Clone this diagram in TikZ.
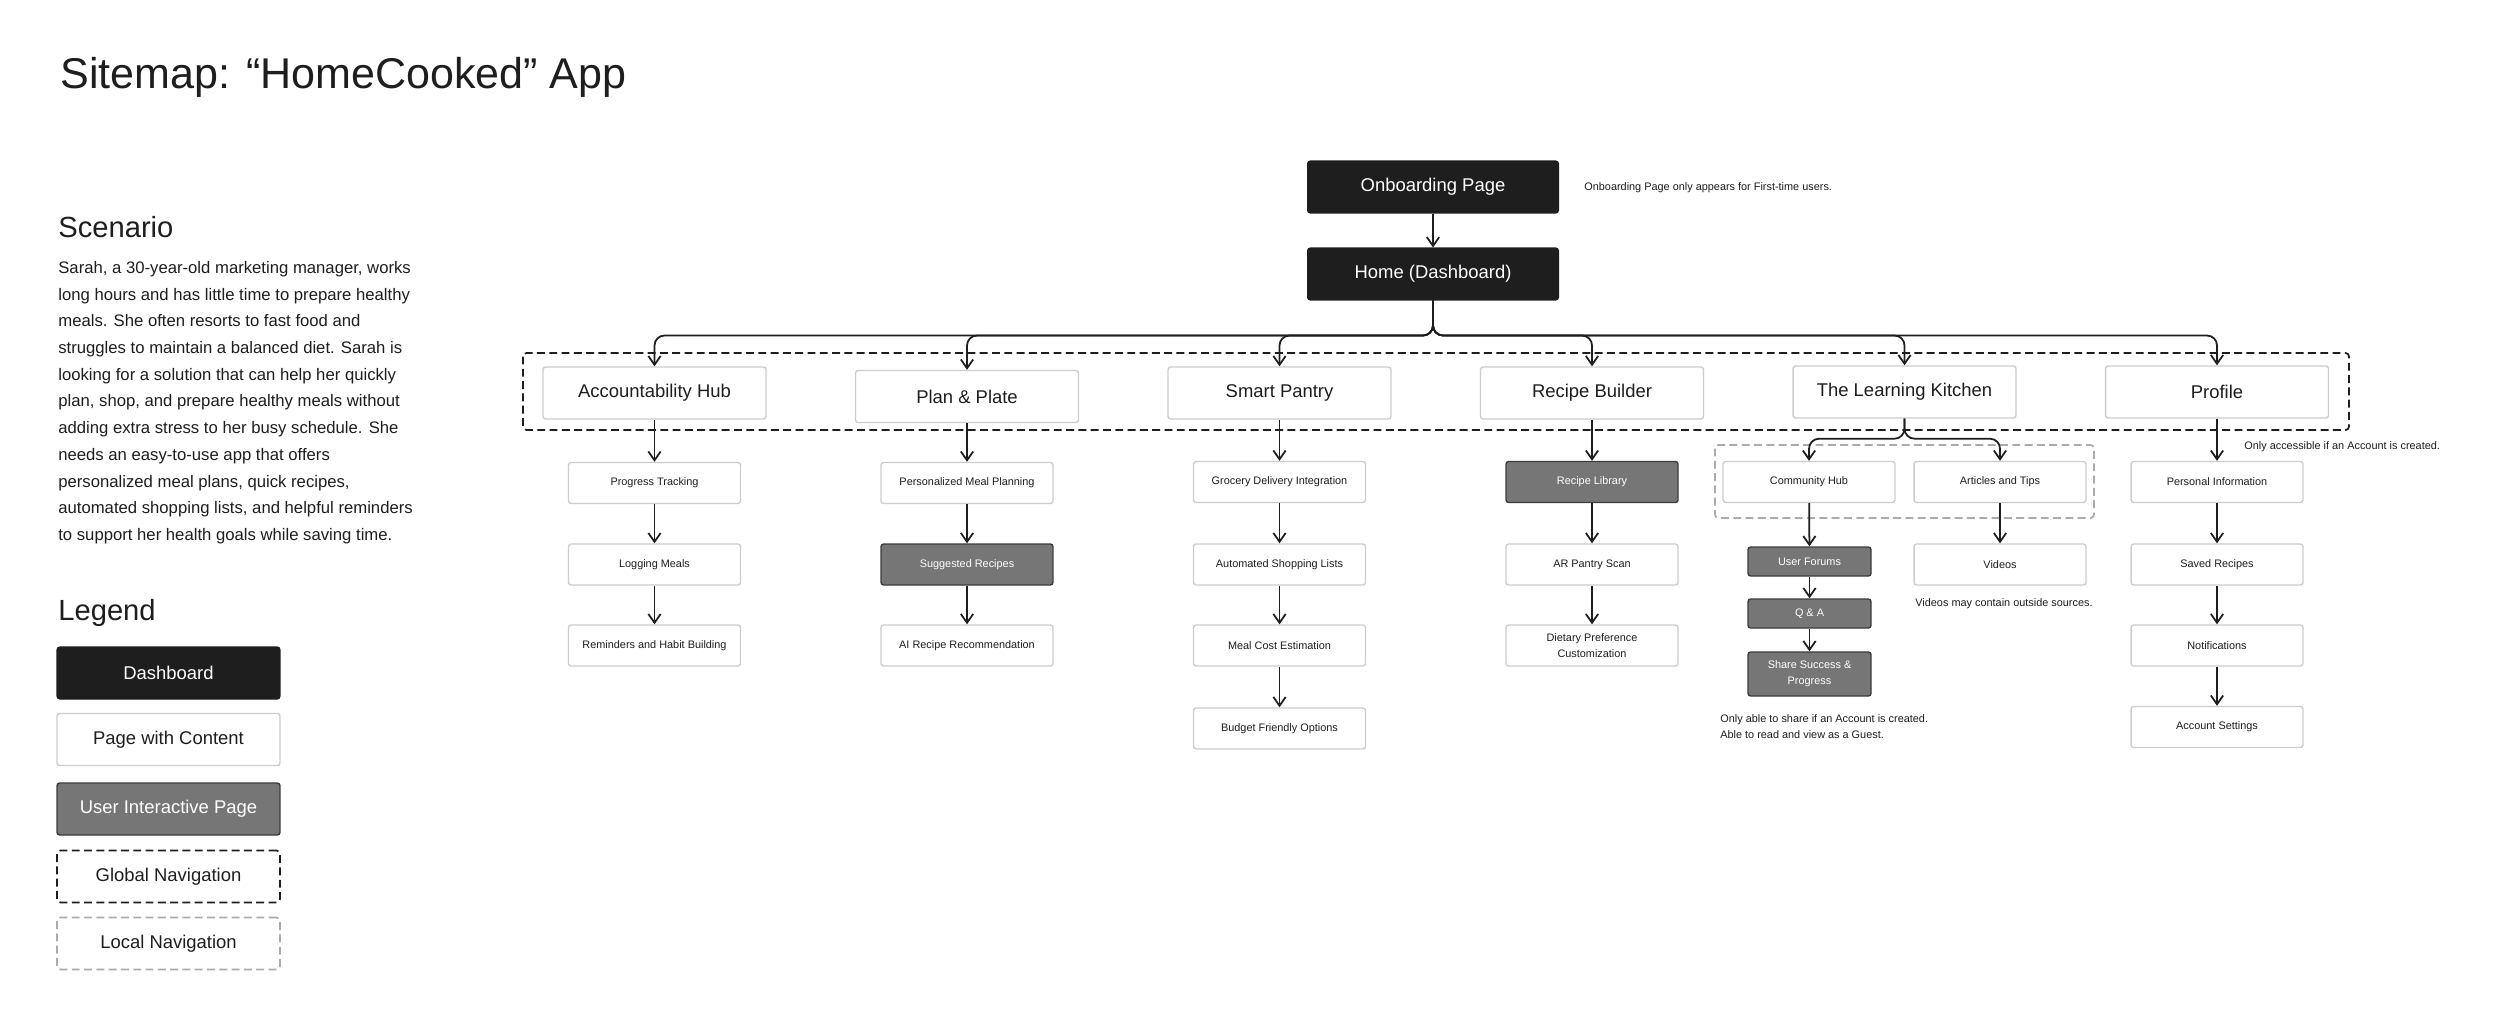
\documentclass[tikz,border=0pt]{standalone}
\usepackage{fontspec}
\setmainfont{Liberation Sans}
\usetikzlibrary{positioning, arrows.meta}

\definecolor{ink}{HTML}{1E1E1E}
\definecolor{interactfill}{HTML}{767676}
\definecolor{interactline}{HTML}{3C3C3C}
\definecolor{pageline}{HTML}{CDCDCD}
\definecolor{localline}{HTML}{ABABAB}

\begin{document}
\begin{tikzpicture}[
    x=0.02cm, y=-0.02cm,
    dashboard/.style={draw=ink, fill=ink, text=white, rounded corners=1.5pt, minimum width=5.02cm, minimum height=1.04cm, inner sep=0pt, line width=0.6pt, font=\fontsize{10.5}{12.6}\selectfont},
    section/.style={draw=pageline, fill=white, text=ink, rounded corners=1.5pt, minimum width=4.46cm, minimum height=1.04cm, inner sep=0pt, line width=0.8pt, font=\fontsize{10.5}{12.6}\selectfont},
    page/.style={draw=pageline, fill=white, text=ink, rounded corners=1.5pt, minimum width=3.44cm, minimum height=0.82cm, inner sep=0pt, align=center, line width=0.8pt, font=\fontsize{6.2}{9.2}\selectfont},
    interactive/.style={page, draw=interactline, fill=interactfill, text=white},
    smallbox/.style={minimum width=2.46cm, minimum height=0.58cm},
    globalnav/.style={draw=ink, line width=1pt, dash pattern=on 4.5pt off 2.5pt, rounded corners=2pt},
    localnav/.style={draw=localline, line width=1pt, dash pattern=on 4.5pt off 2.5pt, rounded corners=2pt},
    link/.style={draw=ink, line width=1pt, -{Straight Barb[length=5pt, width=7pt]}},
    branch/.style={link, rounded corners=0.2cm},
    note/.style={anchor=west, text=ink, inner sep=0pt, align=left, font=\fontsize{6.2}{9.2}\selectfont},
    heading/.style={anchor=base west, text=ink, inner sep=0pt, font=\fontsize{16.6}{20}\selectfont}
]

    \path[use as bounding box, fill=white] (0,0) rectangle (2500,1027);

    % ================= SCENARIO & LEGEND =================
    \node[heading, font=\fontsize{24.5}{29}\selectfont] (title) at (60,89) {Sitemap: “HomeCooked” App};

    \node[heading] (scenario_title) at (58,237) {Scenario};
    \node[anchor=north west, inner sep=0pt, align=left, text=ink, font=\fontsize{9.5}{15.2}\selectfont] (scenario_text) at (58,261) {Sarah, a 30-year-old marketing manager, works\\
        long hours and has little time to prepare healthy\\
        meals. She often resorts to fast food and\\
        struggles to maintain a balanced diet. Sarah is\\
        looking for a solution that can help her quickly\\
        plan, shop, and prepare healthy meals without\\
        adding extra stress to her busy schedule. She\\
        needs an easy-to-use app that offers\\
        personalized meal plans, quick recipes,\\
        automated shopping lists, and helpful reminders\\
        to support her health goals while saving time.};

    \node[heading] (legend_title) at (58,620) {Legend};
    \node[dashboard, minimum width=4.46cm] (lg_dash) at (168.5,673) {Dashboard};
    \node[section] (lg_page) at (168.5,739.5) {Page with Content};
    \node[section, draw=interactline, fill=interactfill, text=white] (lg_user) at (168.5,809) {User Interactive Page};
    \node[section, globalnav] (lg_global) at (168.5,876.5) {Global Navigation};
    \node[section, localnav] (lg_local) at (168.5,943.5) {Local Navigation};

    % ================= TOP LEVEL =================
    \node[dashboard] (onboard) at (1433,187) {Onboarding Page};
    \node[dashboard] (home) at (1433,274) {Home (Dashboard)};
    \node[note] (onboard_note) at (1584,188) {Onboarding Page only appears for First-time users.};
    \draw[link] (onboard) -- (home);

    % ================= GLOBAL NAVIGATION =================
    \draw[globalnav] (523,353) rectangle (2349,430);

    \node[section] (acc) at (654.5,393) {Accountability Hub};
    \node[section] (plan) at (967,396.5) {Plan \& Plate};
    \node[section] (pantry) at (1279.5,393) {Smart Pantry};
    \node[section] (builder) at (1592,393) {Recipe Builder};
    \node[section] (kitchen) at (1904.5,392) {The Learning Kitchen};
    \node[section] (profile) at (2217,392) {Profile};

    \draw[branch] (home.south) -- ++(0,35) -| (acc.north);
    \draw[branch] (home.south) -- ++(0,35) -| (plan.north);
    \draw[branch] (home.south) -- ++(0,35) -| (pantry.north);
    \draw[branch] (home.south) -- ++(0,35) -| (builder.north);
    \draw[branch] (home.south) -- ++(0,35) -| (kitchen.north);
    \draw[branch] (home.south) -- ++(0,35) -| (profile.north);

    % ================= ACCOUNTABILITY HUB =================
    \node[page] (progress) at (654.5,483) {Progress Tracking};
    \node[page] (logging) at (654.5,564.5) {Logging Meals};
    \node[page] (reminders) at (654.5,645.5) {Reminders and Habit Building};
    \draw[link] (acc) -- (progress);
    \draw[link] (progress) -- (logging);
    \draw[link] (logging) -- (reminders);

    % ================= PLAN & PLATE =================
    \node[page] (mealplan) at (967,483) {Personalized Meal Planning};
    \node[interactive] (suggested) at (967,564.5) {Suggested Recipes};
    \node[page] (airecipe) at (967,645.5) {AI Recipe Recommendation};
    \draw[link] (plan) -- (mealplan);
    \draw[link] (mealplan) -- (suggested);
    \draw[link] (suggested) -- (airecipe);

    % ================= SMART PANTRY =================
    \node[page] (grocery) at (1279.5,482) {Grocery Delivery Integration};
    \node[page] (shopping) at (1279.5,564.5) {Automated Shopping Lists};
    \node[page] (cost) at (1279.5,645.5) {Meal Cost Estimation};
    \node[page] (budget) at (1279.5,728.5) {Budget Friendly Options};
    \draw[link] (pantry) -- (grocery);
    \draw[link] (grocery) -- (shopping);
    \draw[link] (shopping) -- (cost);
    \draw[link] (cost) -- (budget);

    % ================= RECIPE BUILDER =================
    \node[interactive] (library) at (1592,482) {Recipe Library};
    \node[page] (arscan) at (1592,564.5) {AR Pantry Scan};
    \node[page] (dietary) at (1592,645.5) {Dietary Preference\\Customization};
    \draw[link] (builder) -- (library);
    \draw[link] (library) -- (arscan);
    \draw[link] (arscan) -- (dietary);

    % ================= THE LEARNING KITCHEN =================
    \draw[localnav] (1715,445) rectangle (2094,518);
    \node[page] (community) at (1809,482) {Community Hub};
    \node[page] (articles) at (2000,482) {Articles and Tips};
    \draw[branch] (kitchen.south) -- ++(0,20) -| (community.north);
    \draw[branch] (kitchen.south) -- ++(0,20) -| (articles.north);

    \node[interactive, smallbox] (forums) at (1809.5,561.5) {User Forums};
    \node[interactive, smallbox] (qa) at (1809.5,613.5) {Q \& A};
    \node[interactive, smallbox, minimum height=0.88cm] (share) at (1809.5,674) {Share Success \&\\Progress};
    \draw[link] (community) -- (forums);
    \draw[link] (forums) -- (qa);
    \draw[link] (qa) -- (share);
    \node[note, anchor=north west] (share_note) at (1720,714) {Only able to share if an Account is created.\\Able to read and view as a Guest.};

    \node[page] (videos) at (2000,564.5) {Videos};
    \draw[link] (articles) -- (videos);
    \node[note] (videos_note) at (1915,604) {Videos may contain outside sources.};

    % ================= PROFILE =================
    \node[page] (personal) at (2217,482) {Personal Information};
    \node[page] (saved) at (2217,564.5) {Saved Recipes};
    \node[page] (notify) at (2217,645.5) {Notifications};
    \node[page] (settings) at (2217,727) {Account Settings};
    \draw[link] (profile) -- (personal);
    \draw[link] (personal) -- (saved);
    \draw[link] (saved) -- (notify);
    \draw[link] (notify) -- (settings);
    \node[note] (profile_note) at (2244,447) {Only accessible if an Account is created.};

\end{tikzpicture}
\end{document}
